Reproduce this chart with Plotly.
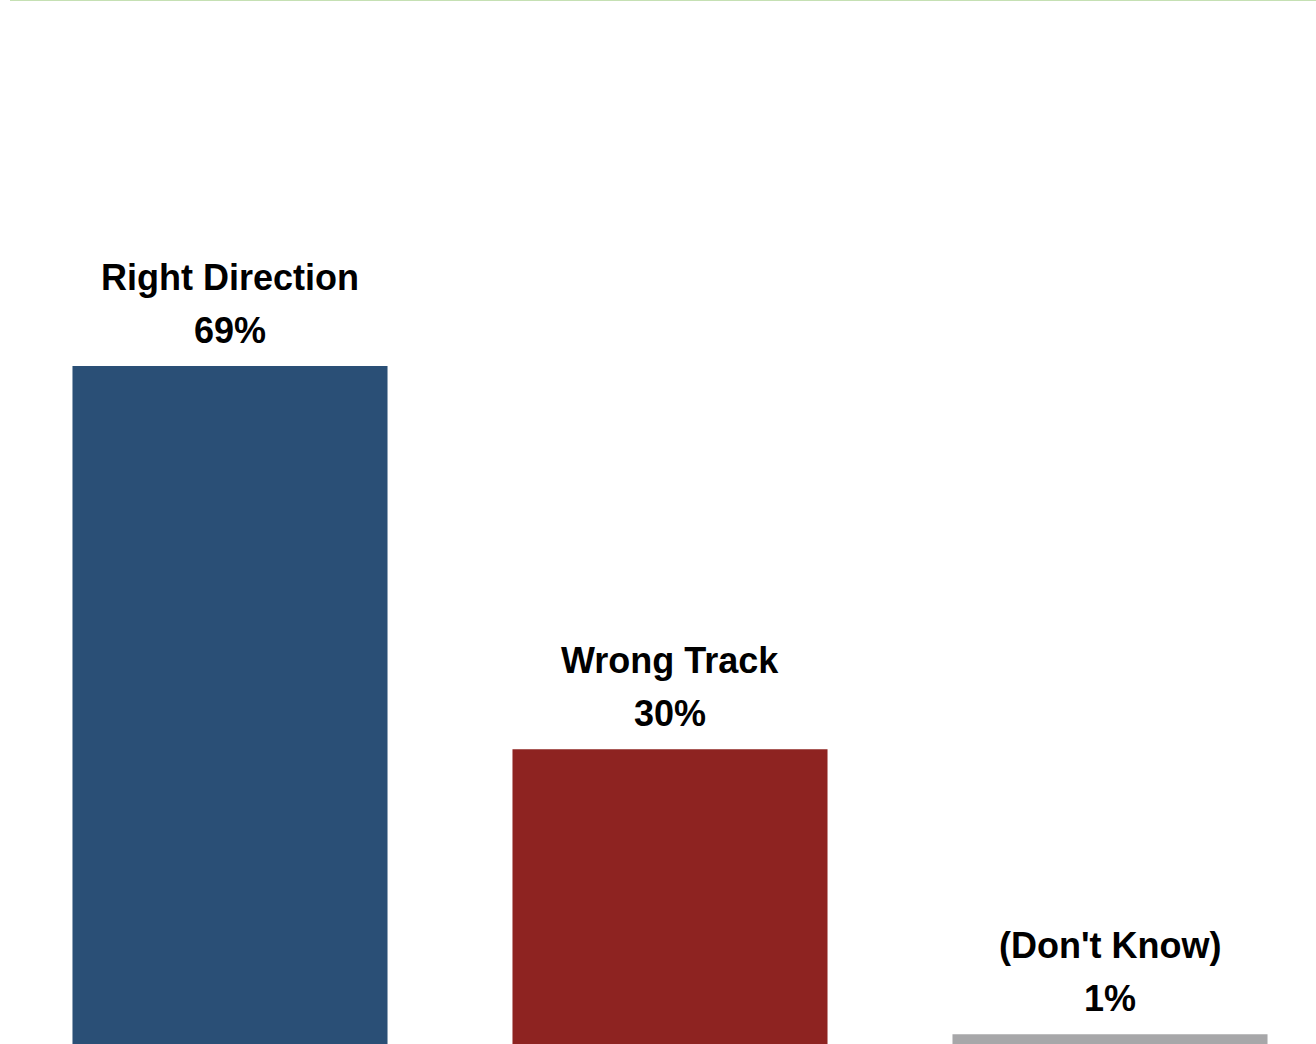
import plotly.graph_objects as go

categories = ["Right Direction", "Wrong Track", "(Don't Know)"]
values = [69, 30, 1]
value_labels = ["69%", "30%", "1%"]
colors = ["#2A4F76", "#8E2321", "#A7A7A9"]

fig = go.Figure()
fig.add_trace(go.Bar(
    x=categories, y=values,
    marker=dict(color=colors, line=dict(width=0)),
    width=0.716,
    hoverinfo="skip",
))

font = dict(family="Liberation Sans, Arial, sans-serif", size=36, color="#000000")
for c, v, lab in zip(categories, values, value_labels):
    fig.add_annotation(x=c, y=v, text="<b>%s</b>" % lab, showarrow=False,
                       yanchor="middle", yshift=36, font=font)
    fig.add_annotation(x=c, y=v, text="<b>%s</b>" % c, showarrow=False,
                       yanchor="middle", yshift=89, font=font)

fig.add_shape(type="line", xref="paper", yref="paper", x0=0, x1=1, y0=1, y1=1,
              line=dict(color="#C5E0B3", width=2))

fig.update_layout(
    width=1316, height=1044,
    margin=dict(l=10, r=0, t=0, b=0),
    paper_bgcolor="white", plot_bgcolor="white",
    showlegend=False,
    xaxis=dict(visible=False, range=[-0.5, -0.5 + 1306 / 440]),
    yaxis=dict(visible=False, range=[0, 1044 / (678 / 69)]),
)
fig.write_html("out.html", config={"displayModeBar": False},
               post_script="document.body.style.margin='0';document.body.style.overflow='hidden';")
